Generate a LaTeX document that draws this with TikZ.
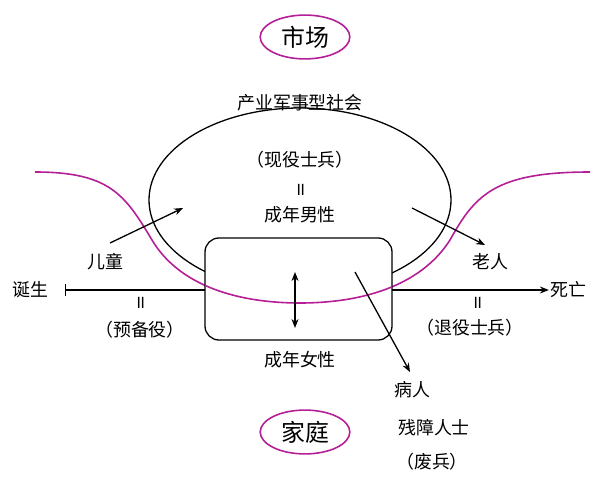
\documentclass[tikz,border=0pt]{standalone}
\usepackage{fontspec}
\setmainfont{Noto Sans CJK SC}
\newfontfamily\devfont[Script=Devanagari]{Noto Sans}
\usetikzlibrary{shapes.geometric,arrows.meta}
\definecolor{mag}{RGB}{180,30,150}
\tikzset{lbl/.style={font=\fontsize{18}{20}\selectfont,inner sep=1pt},
 big/.style={ellipse,draw=mag,line width=1.6pt,font=\fontsize{24}{26}\selectfont,minimum width=90,minimum height=44,inner sep=0pt},
 ar/.style={-{Stealth[length=9pt,width=7pt]},line width=1.3pt},
 ln/.style={line width=1.3pt},
 magc/.style={mag,line width=1.6pt}}
\newcommand\magcurve{(35,172) .. controls (110,172) and (125,195) .. (152,240) .. controls (180,287) and (240,303) .. (300,303) .. controls (360,303) and (420,287) .. (450,240) .. controls (475,195) and (495,172) .. (590,172)}
\begin{document}
\begin{tikzpicture}[x=1bp,y=-1bp]
\useasboundingbox (0,0) rectangle (600,478);
\node[big] (mkt) at (305,37) {市场};
\node[big] (fam) at (305,432) {家庭};
\draw[magc] \magcurve;
\draw[ln,fill=white] (300,200) ellipse [x radius=151,y radius=92];
\draw[ln,fill=white,rounded corners=14] (205,238) rectangle (392,340);
\begin{scope}
\clip (205,238) rectangle (392,340);
\draw[magc] \magcurve;
\end{scope}
\node[lbl] (soc) at (300,103) {产业军事型社会};
\node[lbl] (cur) at (300,160) {（现役士兵）};
\node[lbl] (eq1) at (300,190) {\devfont ॥};
\node[lbl] (man) at (300,215) {成年男性};
\node[lbl] (woman) at (300,360) {成年女性};
\node[lbl] (birth) at (30,290) {诞生};
\node[lbl] (death) at (568,290) {死亡};
\node[lbl] (child) at (105,262) {儿童};
\node[lbl] (old) at (490,262) {老人};
\node[lbl] (eq2) at (140,303) {\devfont ॥};
\node[lbl] (res) at (140,330) {（预备役）};
\node[lbl] (eq3) at (477,303) {\devfont ॥};
\node[lbl] (ret) at (470,328) {（退役士兵）};
\node[lbl] (sick) at (412,390) {病人};
\node[lbl] (dis) at (434,428) {残障人士};
\node[lbl] (war) at (432,462) {（废兵）};
\coordinate (l0) at (65,290); \coordinate (l1) at (205,290);
\coordinate (r0) at (392,290);
\draw[ln,{Bar[width=12pt]}-] (l0) -- (l1);
\draw[ar] (r0) -- (death.west);
\coordinate (c0) at (110,243); \coordinate (c1) at (183,208);
\draw[ar] (c0) -- (c1);
\coordinate (o0) at (412,208); \coordinate (o1) at (485,245);
\draw[ar] (o0) -- (o1);
\coordinate (d0) at (295,272); \coordinate (d1) at (295,328);
\draw[ar,{Stealth[length=9pt,width=7pt]}-{Stealth[length=9pt,width=7pt]}] (d0) -- (d1);
\coordinate (s0) at (355,272); \coordinate (s1) at (410,372);
\draw[ar] (s0) -- (s1);
\end{tikzpicture}
\end{document}
